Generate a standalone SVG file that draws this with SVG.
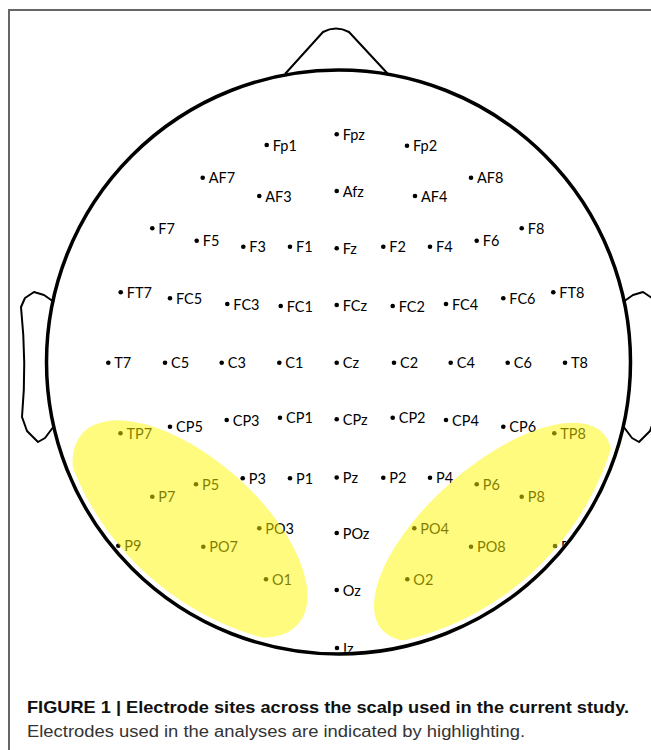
<svg xmlns="http://www.w3.org/2000/svg" width="651" height="750" viewBox="0 0 651 750">
<style>
.lbl{font-family:Lato,"Open Sans","Liberation Sans",sans-serif;font-size:14.5px;fill:#000}
.dot{fill:#000}
.head{fill:none;stroke:#000;stroke-width:3.5}
.part{fill:none;stroke:#000;stroke-width:2;stroke-linejoin:round}
.hl{fill:#fff700;fill-opacity:0.5}
.cap1{font-family:"Liberation Sans",Arial,sans-serif;font-weight:bold;font-size:17px;fill:#111}
.cap2{font-family:"Liberation Sans",Arial,sans-serif;font-size:16px;fill:#333}
</style>
<defs>
<clipPath id="inner"><circle cx="338.5" cy="362" r="290"/></clipPath>
<clipPath id="hlclip"><circle cx="338.5" cy="362" r="286"/></clipPath>
</defs>
<rect width="651" height="750" fill="#fff"/>
<g id="frame" stroke="#666" stroke-width="2" fill="none">
<path d="M9,750 V10 H651"/>
</g>
<g id="head">
<path id="nose" class="part" d="M285,74 L323,32 Q336,25 349,32 L388,74"/>
<path id="ear-left" class="part" d="M54,302 L44,295 L34,292 L25,298 L21,307 C25,345 25,385 22,417 L27,431 L38,442 L45,438 L54,426"/>
<path id="ear-right" class="part" d="M623,302 L633,295 L643,292 L652,298 L656,307 C652,345 652,385 655,417 L650,431 L639,442 L632,438 L623,426"/>
<circle id="scalp" class="head" cx="338.5" cy="362" r="292"/>
</g>
<g id="connectors"/>
<g id="electrodes" clip-path="url(#inner)">
<g id="Fp1" transform="translate(266.7,145)"><circle class="dot" r="2.3"/><text class="lbl" x="6" y="5.5">Fp1</text></g>
<g id="Fpz" transform="translate(336.7,134.3)"><circle class="dot" r="2.3"/><text class="lbl" x="6" y="5.5">Fpz</text></g>
<g id="Fp2" transform="translate(407,145.7)"><circle class="dot" r="2.3"/><text class="lbl" x="6" y="5.5">Fp2</text></g>
<g id="AF7" transform="translate(202.7,177.7)"><circle class="dot" r="2.3"/><text class="lbl" x="6" y="5.5">AF7</text></g>
<g id="AF3" transform="translate(259.3,196)"><circle class="dot" r="2.3"/><text class="lbl" x="6" y="5.5">AF3</text></g>
<g id="Afz" transform="translate(336.7,191)"><circle class="dot" r="2.3"/><text class="lbl" x="6" y="5.5">Afz</text></g>
<g id="AF4" transform="translate(415,196)"><circle class="dot" r="2.3"/><text class="lbl" x="6" y="5.5">AF4</text></g>
<g id="AF8" transform="translate(471,177.7)"><circle class="dot" r="2.3"/><text class="lbl" x="6" y="5.5">AF8</text></g>
<g id="F7" transform="translate(152.3,228.3)"><circle class="dot" r="2.3"/><text class="lbl" x="6" y="5.5">F7</text></g>
<g id="F5" transform="translate(196.7,240.7)"><circle class="dot" r="2.3"/><text class="lbl" x="6" y="5.5">F5</text></g>
<g id="F3" transform="translate(243.3,246.7)"><circle class="dot" r="2.3"/><text class="lbl" x="6" y="5.5">F3</text></g>
<g id="F1" transform="translate(290,246.7)"><circle class="dot" r="2.3"/><text class="lbl" x="6" y="5.5">F1</text></g>
<g id="Fz" transform="translate(336.7,248.3)"><circle class="dot" r="2.3"/><text class="lbl" x="6" y="5.5">Fz</text></g>
<g id="F2" transform="translate(383.3,246.7)"><circle class="dot" r="2.3"/><text class="lbl" x="6" y="5.5">F2</text></g>
<g id="F4" transform="translate(430,246.7)"><circle class="dot" r="2.3"/><text class="lbl" x="6" y="5.5">F4</text></g>
<g id="F6" transform="translate(476.7,240.7)"><circle class="dot" r="2.3"/><text class="lbl" x="6" y="5.5">F6</text></g>
<g id="F8" transform="translate(521.7,228.3)"><circle class="dot" r="2.3"/><text class="lbl" x="6" y="5.5">F8</text></g>
<g id="FT7" transform="translate(120.7,292.3)"><circle class="dot" r="2.3"/><text class="lbl" x="6" y="5.5">FT7</text></g>
<g id="FC5" transform="translate(170,298.3)"><circle class="dot" r="2.3"/><text class="lbl" x="6" y="5.5">FC5</text></g>
<g id="FC3" transform="translate(227.3,304)"><circle class="dot" r="2.3"/><text class="lbl" x="6" y="5.5">FC3</text></g>
<g id="FC1" transform="translate(280.7,306)"><circle class="dot" r="2.3"/><text class="lbl" x="6" y="5.5">FC1</text></g>
<g id="FCz" transform="translate(336.7,305)"><circle class="dot" r="2.3"/><text class="lbl" x="6" y="5.5">FCz</text></g>
<g id="FC2" transform="translate(392.7,306)"><circle class="dot" r="2.3"/><text class="lbl" x="6" y="5.5">FC2</text></g>
<g id="FC4" transform="translate(446,304)"><circle class="dot" r="2.3"/><text class="lbl" x="6" y="5.5">FC4</text></g>
<g id="FC6" transform="translate(503.3,298.3)"><circle class="dot" r="2.3"/><text class="lbl" x="6" y="5.5">FC6</text></g>
<g id="FT8" transform="translate(553.3,292.3)"><circle class="dot" r="2.3"/><text class="lbl" x="6" y="5.5">FT8</text></g>
<g id="T7" transform="translate(108.3,362.7)"><circle class="dot" r="2.3"/><text class="lbl" x="6" y="5.5">T7</text></g>
<g id="C5" transform="translate(165,362.7)"><circle class="dot" r="2.3"/><text class="lbl" x="6" y="5.5">C5</text></g>
<g id="C3" transform="translate(221.7,362.7)"><circle class="dot" r="2.3"/><text class="lbl" x="6" y="5.5">C3</text></g>
<g id="C1" transform="translate(279.3,362.7)"><circle class="dot" r="2.3"/><text class="lbl" x="6" y="5.5">C1</text></g>
<g id="Cz" transform="translate(336.7,362.7)"><circle class="dot" r="2.3"/><text class="lbl" x="6" y="5.5">Cz</text></g>
<g id="C2" transform="translate(394,362.7)"><circle class="dot" r="2.3"/><text class="lbl" x="6" y="5.5">C2</text></g>
<g id="C4" transform="translate(450.7,362.7)"><circle class="dot" r="2.3"/><text class="lbl" x="6" y="5.5">C4</text></g>
<g id="C6" transform="translate(507.7,362.7)"><circle class="dot" r="2.3"/><text class="lbl" x="6" y="5.5">C6</text></g>
<g id="T8" transform="translate(565,362.7)"><circle class="dot" r="2.3"/><text class="lbl" x="6" y="5.5">T8</text></g>
<g id="TP7" transform="translate(120.5,433.3)"><circle class="dot" r="2.3"/><text class="lbl" x="6" y="5.5">TP7</text></g>
<g id="CP5" transform="translate(170,426.7)"><circle class="dot" r="2.3"/><text class="lbl" x="6" y="5.5">CP5</text></g>
<g id="CP3" transform="translate(226.7,420)"><circle class="dot" r="2.3"/><text class="lbl" x="6" y="5.5">CP3</text></g>
<g id="CP1" transform="translate(280,417.7)"><circle class="dot" r="2.3"/><text class="lbl" x="6" y="5.5">CP1</text></g>
<g id="CPz" transform="translate(336.7,419.3)"><circle class="dot" r="2.3"/><text class="lbl" x="6" y="5.5">CPz</text></g>
<g id="CP2" transform="translate(392.7,417.7)"><circle class="dot" r="2.3"/><text class="lbl" x="6" y="5.5">CP2</text></g>
<g id="CP4" transform="translate(446,420)"><circle class="dot" r="2.3"/><text class="lbl" x="6" y="5.5">CP4</text></g>
<g id="CP6" transform="translate(503.3,426.7)"><circle class="dot" r="2.3"/><text class="lbl" x="6" y="5.5">CP6</text></g>
<g id="TP8" transform="translate(554.3,433.3)"><circle class="dot" r="2.3"/><text class="lbl" x="6" y="5.5">TP8</text></g>
<g id="P7" transform="translate(152.3,496.7)"><circle class="dot" r="2.3"/><text class="lbl" x="6" y="5.5">P7</text></g>
<g id="P5" transform="translate(196,484.3)"><circle class="dot" r="2.3"/><text class="lbl" x="6" y="5.5">P5</text></g>
<g id="P3" transform="translate(242.7,478.3)"><circle class="dot" r="2.3"/><text class="lbl" x="6" y="5.5">P3</text></g>
<g id="P1" transform="translate(290,478.3)"><circle class="dot" r="2.3"/><text class="lbl" x="6" y="5.5">P1</text></g>
<g id="Pz" transform="translate(336.7,477.5)"><circle class="dot" r="2.3"/><text class="lbl" x="6" y="5.5">Pz</text></g>
<g id="P2" transform="translate(383.3,477.7)"><circle class="dot" r="2.3"/><text class="lbl" x="6" y="5.5">P2</text></g>
<g id="P4" transform="translate(430,477.7)"><circle class="dot" r="2.3"/><text class="lbl" x="6" y="5.5">P4</text></g>
<g id="P6" transform="translate(476.7,484.3)"><circle class="dot" r="2.3"/><text class="lbl" x="6" y="5.5">P6</text></g>
<g id="P8" transform="translate(521.7,496.7)"><circle class="dot" r="2.3"/><text class="lbl" x="6" y="5.5">P8</text></g>
<g id="P9" transform="translate(118.3,545.7)"><circle class="dot" r="2.3"/><text class="lbl" x="6" y="5.5">P9</text></g>
<g id="P10" transform="translate(555,546)"><circle class="dot" r="2.3"/><text class="lbl" x="6" y="5.5">P10</text></g>
<g id="PO7" transform="translate(203.3,546.7)"><circle class="dot" r="2.3"/><text class="lbl" x="6" y="5.5">PO7</text></g>
<g id="PO3" transform="translate(259.3,528.3)"><circle class="dot" r="2.3"/><text class="lbl" x="6" y="5.5">PO3</text></g>
<g id="POz" transform="translate(336.7,533)"><circle class="dot" r="2.3"/><text class="lbl" x="6" y="5.5">POz</text></g>
<g id="PO4" transform="translate(414.3,528.3)"><circle class="dot" r="2.3"/><text class="lbl" x="6" y="5.5">PO4</text></g>
<g id="PO8" transform="translate(471,546.7)"><circle class="dot" r="2.3"/><text class="lbl" x="6" y="5.5">PO8</text></g>
<g id="O1" transform="translate(266,579.3)"><circle class="dot" r="2.3"/><text class="lbl" x="6" y="5.5">O1</text></g>
<g id="Oz" transform="translate(336.7,590)"><circle class="dot" r="2.3"/><text class="lbl" x="6" y="5.5">Oz</text></g>
<g id="O2" transform="translate(407.3,579.3)"><circle class="dot" r="2.3"/><text class="lbl" x="6" y="5.5">O2</text></g>
<g id="Iz" transform="translate(337,648)"><circle class="dot" r="2.3"/><text class="lbl" x="6" y="5.5">Iz</text></g>
</g>
<g id="highlights" clip-path="url(#hlclip)">
<ellipse id="hl-left" class="hl" cx="190" cy="529" rx="144" ry="70" transform="rotate(41.4 190 529)"/>
<ellipse id="hl-right" class="hl" cx="493" cy="532" rx="148" ry="65" transform="rotate(-41.4 493 532)"/>
</g>
<g id="caption">
<text class="cap1" x="27" y="713" textLength="602" lengthAdjust="spacingAndGlyphs">FIGURE 1 | Electrode sites across the scalp used in the current study.</text>
<text class="cap2" x="27" y="737" textLength="498" lengthAdjust="spacingAndGlyphs">Electrodes used in the analyses are indicated by highlighting.</text>
</g>
</svg>
